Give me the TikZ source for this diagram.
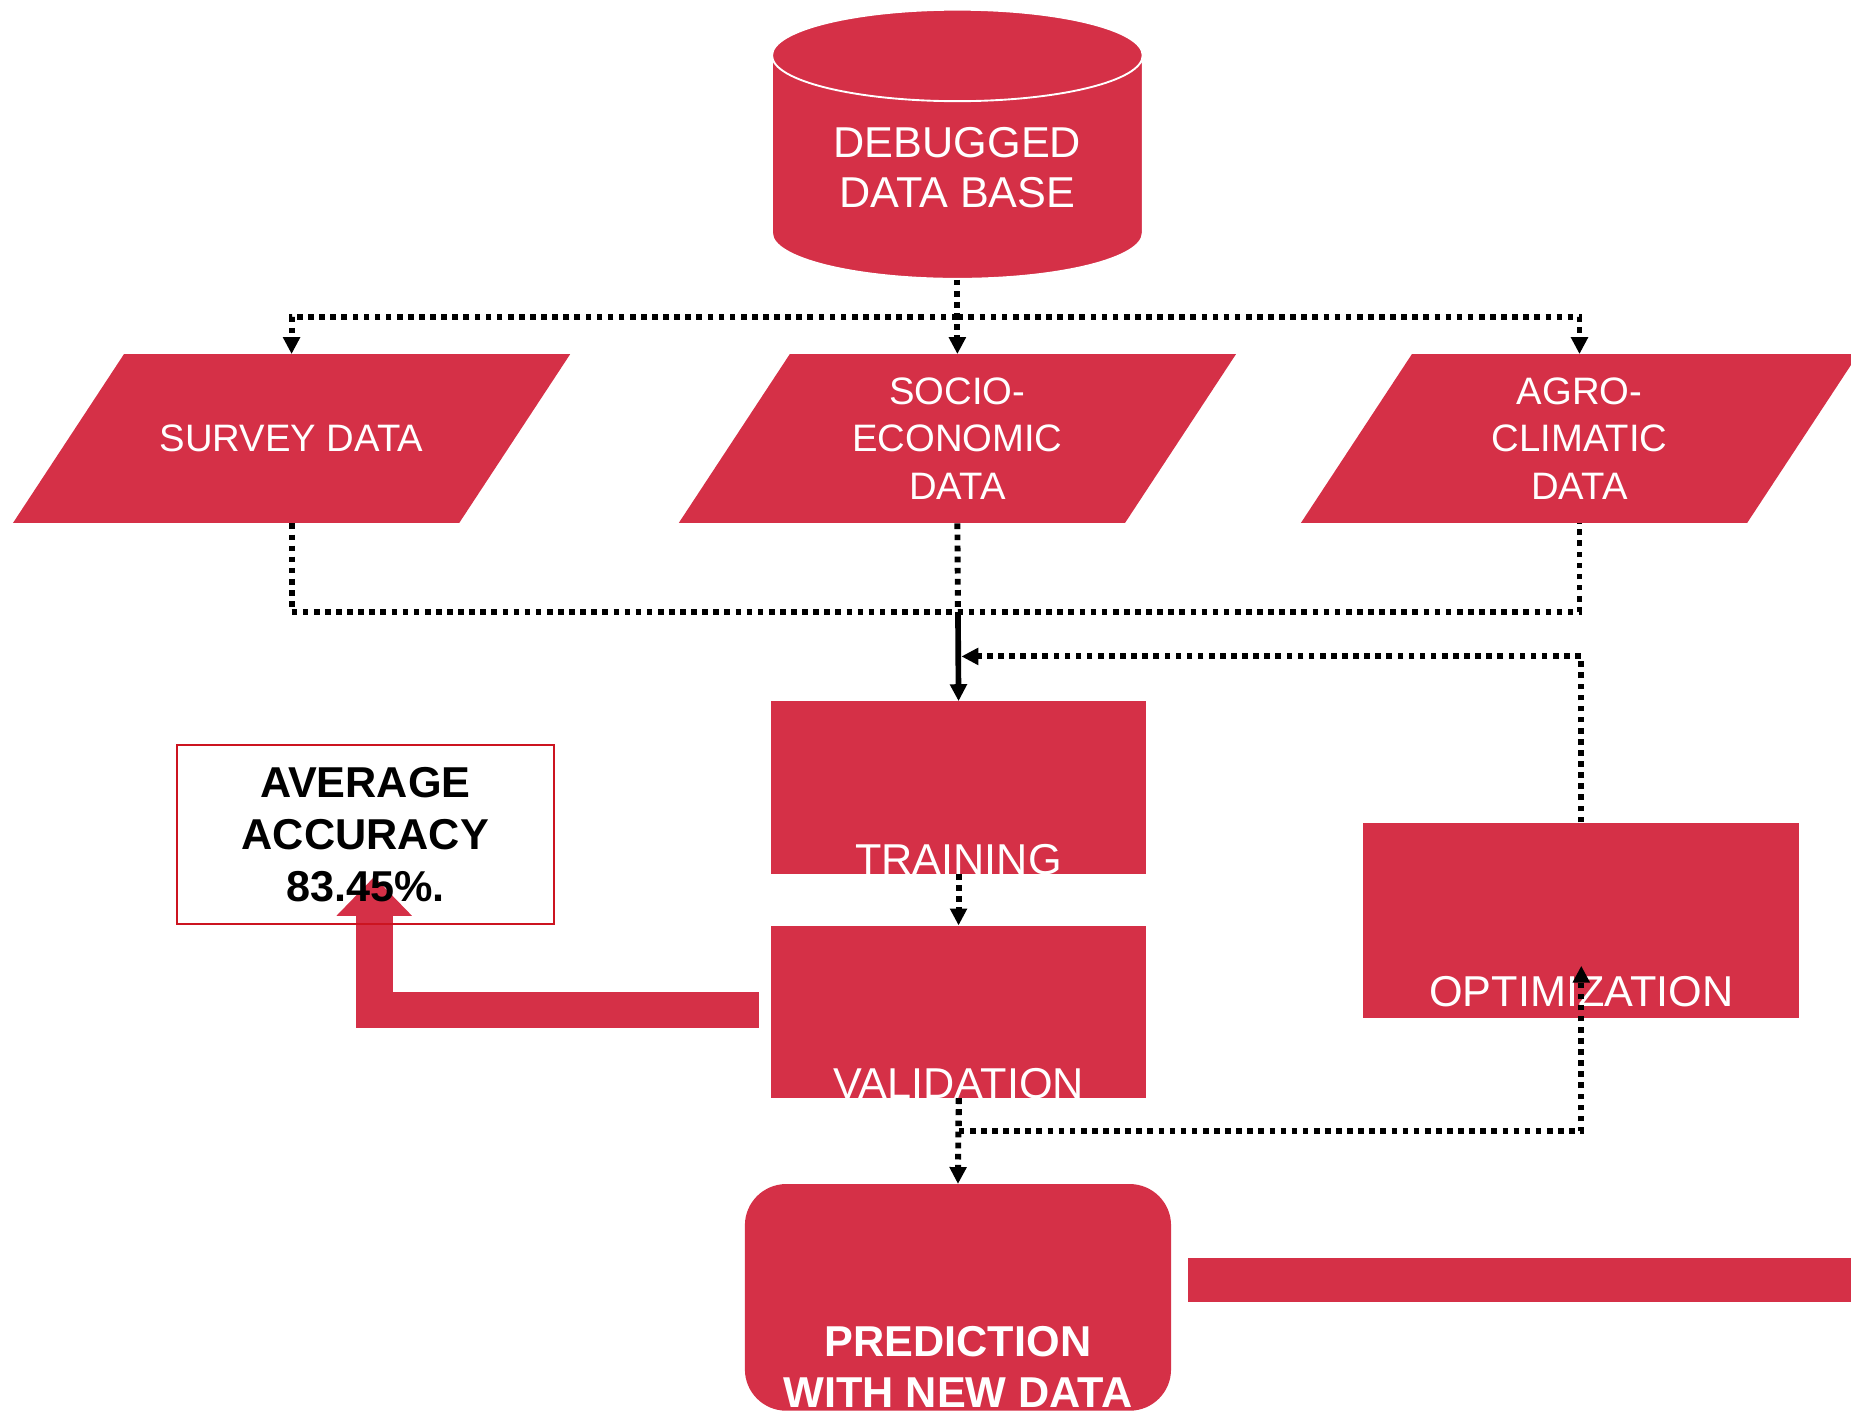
\documentclass[tikz,border=0pt]{standalone}
\usepackage{fontspec}
\setmainfont{Liberation Sans}
\usetikzlibrary{shapes.geometric,arrows.meta,calc,backgrounds}
\definecolor{boxred}{RGB}{213,48,71}
\definecolor{rimred}{RGB}{204,20,32}

\tikzset{
  redfill/.style={fill=boxred, text=white, inner sep=0pt},
  database/.style={redfill, cylinder, shape border rotate=90, aspect=0.37,
    draw=white, line width=0.8pt, minimum width=157pt, minimum height=114pt,
    align=center, font=\fontsize{18.3}{21.5}\selectfont},
  % parallelogram painted inside a plain box, slant 47pt
  datain/.style={rectangle, text=white, inner sep=0pt,
    minimum width=236pt, minimum height=71.5pt,
    align=center, font=\fontsize{16.2}{20}\selectfont,
    path picture={\fill[boxred] (path picture bounding box.south west)
      -- ([xshift=-47pt]path picture bounding box.south east)
      -- (path picture bounding box.north east)
      -- ([xshift=47pt]path picture bounding box.north west) -- cycle;}},
  process/.style={redfill, rectangle, minimum width=159pt, minimum height=73pt},
  boxtext/.style={text=white, inner sep=0pt, font=\fontsize{18.3}{21.5}\selectfont},
  flow/.style={draw, line width=2.5pt, dash pattern=on 2.4pt off 2.3pt,
    -{Triangle[width=7.5pt,length=7pt,line width=0pt]}},
  mainflow/.style={draw, line width=2.4pt,
    -{Triangle[width=7.5pt,length=7pt,line width=0pt]}},
}

\begin{document}
\begin{tikzpicture}[x=0.5pt, y=-0.5pt]
  \path[use as bounding box, clip] (0,0) rectangle (1568,1200);

  % data sources
  \node[database, anchor=south] (db) at (811,237) {DEBUGGED\\DATA BASE};
  \node[datain] (survey) at (247,371.5) {SURVEY DATA};
  \node[datain] (socio) at (811,371.5) {SOCIO-\\ECONOMIC\\DATA};
  \node[datain] (agro) at (1338,371.5) {AGRO-\\CLIMATIC\\DATA};

  % model steps
  \node[process] (train) at (812,667) {};
  \node[process] (valid) at (812,857) {};
  \node[process, minimum width=184.5pt, minimum height=82.5pt] (optim) at (1339.5,779.5) {};
  \node[process, rounded corners=17.5pt, minimum width=180.5pt, minimum height=96pt] (pred) at (811.5,1099) {};
  \node[draw=rimred, line width=0.8pt, minimum width=159.5pt, minimum height=76pt,
    inner sep=0pt, align=center, font=\bfseries\fontsize{18.3}{22}\selectfont] (acc) at (309.5,707)
    {AVERAGE\\ACCURACY\\83.45\%.};

  \node[boxtext, anchor=base] (trainlbl) at (train.south) {TRAINING};
  \node[boxtext, anchor=base] (validlbl) at (valid.south) {VALIDATION};
  \node[boxtext, anchor=base] (optimlbl) at ([yshift=5pt]optim.south) {OPTIMIZATION};
  \node[boxtext, anchor=south, align=center, font=\bfseries\fontsize{18.3}{21.5}\selectfont]
    (predlbl) at ([yshift=1.5pt]pred.south) {PREDICTION\\WITH NEW DATA};

  \fill[boxred] (1006,1066) rectangle (1580,1103);

  % connectors
  \coordinate (split) at ($(db.south)!0.5!(socio.north)$);
  \coordinate (join) at ($(socio.south)!0.5!(train.north)$);
  \draw[flow] (db.south) -- (socio.north);
  \draw[flow] (split) -| (survey.north);
  \draw[flow] (split) -| (agro.north);
  \draw[flow, -] (survey.south) |- (join) -| (agro.south);
  \draw[flow, -] (socio.south) -- (join);
  \draw[mainflow] (join) -- (train.north);
  \draw[flow] (optim.north) |- ($($(join)!0.5!(train.north)$)+(3,0)$);
  \draw[flow] (train.south) -- (valid.north);
  \draw[flow] (valid.south) -- (pred.north);
  \draw[flow] (valid.south) -- ++(0,28) -| ($(optim.south)+(0,-44)$);

  \begin{pgfonlayer}{background}
    \draw[boxred, line width=15.5pt, line join=miter,
      -{Triangle[width=32pt,length=16.5pt,line width=0pt]}]
      ($(valid.west)+(-10,-1.5)$) -| ($(acc.south)+(7.5,-41)$);
  \end{pgfonlayer}
\end{tikzpicture}
\end{document}
